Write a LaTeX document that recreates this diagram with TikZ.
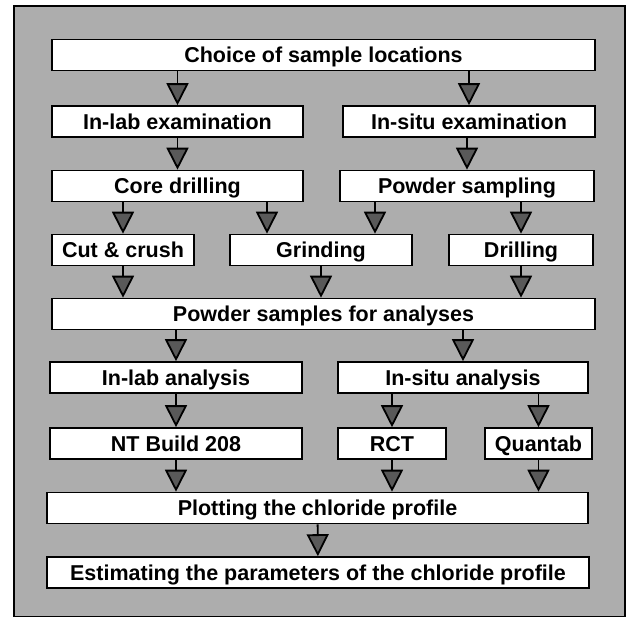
\documentclass[tikz,border=0pt]{standalone}
\usepackage{fontspec}
\setmainfont{Liberation Sans}
\usepackage{tikz}
\usetikzlibrary{arrows.meta}

\tikzset{
  stage/.style={draw, fill=white, line width=0.8pt, minimum height=15.5pt, inner sep=0pt,
    text height=7.7pt, text depth=0pt, font=\fontsize{10.75}{12}\selectfont\bfseries},
  flow/.style={line width=0.9pt, -{Triangle[width=11pt,length=11pt,fill=black!65]}}
}

\begin{document}
\begin{tikzpicture}[x=0.5pt, y=-0.5pt]
\useasboundingbox (0,0) rectangle (632,616);
\draw[line width=1pt, fill=black!32] (14,6) rectangle (625,617);
\node[stage, minimum width=271.5pt] (choice) at (323.5,55) {Choice of sample locations};
\node[stage, minimum width=125.5pt] (inlab) at (177.5,121.5) {In-lab examination};
\node[stage, minimum width=126pt] (insitu) at (469,121.5) {In-situ examination};
\node[stage, minimum width=125.5pt] (core) at (177.5,186) {Core drilling};
\node[stage, minimum width=127pt] (powder) at (467,186) {Powder sampling};
\node[stage, minimum width=71pt] (cut) at (123,250) {Cut \& crush};
\node[stage, minimum width=91pt] (grind) at (321,250) {Grinding};
\node[stage, minimum width=72pt] (drill) at (521,250) {Drilling};
\node[stage, minimum width=271.5pt] (samples) at (323.5,314) {Powder samples for analyses};
\node[stage, minimum width=126pt] (labana) at (176,377.5) {In-lab analysis};
\node[stage, minimum width=125pt] (situana) at (463,377.5) {In-situ analysis};
\node[stage, minimum width=126pt] (nt) at (176,443.5) {NT Build 208};
\node[stage, minimum width=54pt] (rct) at (392,443.5) {RCT};
\node[stage, minimum width=53.5pt] (quantab) at (538.5,443.5) {Quantab};
\node[stage, minimum width=270.5pt] (plot) at (317.5,508) {Plotting the chloride profile};
\node[stage, minimum width=271pt] (estim) at (318,572.5) {Estimating the parameters of the chloride profile};
\coordinate (g1) at ([xshift=-27pt]grind.north);
\coordinate (g2) at ([xshift=27pt]grind.north);
\draw[flow] (choice.south -| inlab.north) -- (inlab.north);
\draw[flow] (choice.south -| insitu.north) -- (insitu.north);
\draw[flow] (inlab) -- (core);
\draw[flow] (insitu.south -| powder.north) -- (powder.north);
\draw[flow] (core.south -| cut.north) -- (cut.north);
\draw[flow] (core.south -| g1) -- (g1);
\draw[flow] (powder.south -| g2) -- (g2);
\draw[flow] (powder.south -| drill.north) -- (drill.north);
\draw[flow] (cut.south) -- (samples.north -| cut.south);
\draw[flow] (grind.south) -- (samples.north -| grind.south);
\draw[flow] (drill.south) -- (samples.north -| drill.south);
\draw[flow] (samples.south -| labana.north) -- (labana.north);
\draw[flow] (samples.south -| situana.north) -- (situana.north);
\draw[flow] (labana) -- (nt);
\draw[flow] (situana.south -| rct.north) -- (rct.north);
\draw[flow] (situana.south -| quantab.north) -- (quantab.north);
\draw[flow] (nt.south) -- (plot.north -| nt.south);
\draw[flow] (rct.south) -- (plot.north -| rct.south);
\draw[flow] (quantab.south) -- (plot.north -| quantab.south);
\draw[flow] (plot) -- (estim);
\end{tikzpicture}
\end{document}
